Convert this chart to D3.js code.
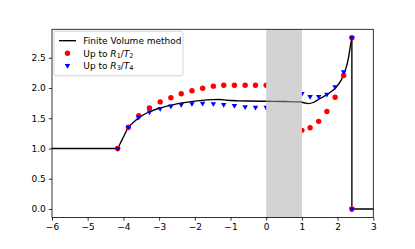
<!DOCTYPE html>
<html>
<head>
<meta charset="utf-8">
<script src="https://cdn.jsdelivr.net/npm/d3@7"></script>
<style>
  body { margin: 0; background: #fff; }
  text { font-family: "DejaVu Sans", sans-serif; font-size: 9px; fill: #000; }
</style>
</head>
<body>
<div id="chart"></div>
<script>
// Define SVG area dimensions
var svgWidth = 415;
var svgHeight = 249;

// Chart margins
var chartMargin = { top: 29.3, right: 41.7, bottom: 31.5, left: 52 };
var width = svgWidth - chartMargin.left - chartMargin.right;
var height = svgHeight - chartMargin.top - chartMargin.bottom;

// Finite Volume method: flat part, smooth part, drop at the end
var fvFlatX = [-6, -4.16];
var fvFlatY = [1.0, 1.0];
var fvX = [-4.16, -4.1, -4.0, -3.87, -3.7, -3.56, -3.4, -3.25, -3.0, -2.7, -2.4, -2.1, -1.8, -1.5, -1.3, -1.1, -0.8, -0.5, 0, 0.5, 0.95, 1.08, 1.19, 1.32, 1.46, 1.7, 1.94, 2.1, 2.22, 2.3, 2.36, 2.4];
var fvY = [1.0, 1.07, 1.19, 1.34, 1.44, 1.51, 1.57, 1.61, 1.665, 1.71, 1.75, 1.775, 1.795, 1.807, 1.81, 1.797, 1.788, 1.784, 1.78, 1.776, 1.77, 1.752, 1.742, 1.76, 1.81, 1.89, 2.0, 2.13, 2.30, 2.48, 2.70, 2.83];
var fvDropX = [2.4, 2.4, 3];
var fvDropY = [2.83, 0, 0];

// Up to R1/T2 (red dots)
var r1X = [-4.16, -3.86, -3.57, -3.27, -2.97, -2.67, -2.38, -2.08, -1.78, -1.48, -1.19, -0.89, -0.59, -0.3, 0,
           1.0, 1.23, 1.47, 1.7, 1.93, 2.17, 2.4, 2.4];
var r1Y = [1.0, 1.35, 1.54, 1.67, 1.77, 1.84, 1.905, 1.955, 1.995, 2.03, 2.045, 2.045, 2.045, 2.045, 2.045,
           1.30, 1.343, 1.448, 1.61, 1.846, 2.206, 2.83, 0];

// Up to R3/T4 (blue triangles)
var r3X = r1X;
var r3Y = [1.0, 1.35, 1.515, 1.60, 1.66, 1.70, 1.725, 1.74, 1.747, 1.74, 1.725, 1.708, 1.69, 1.68, 1.68,
           1.907, 1.857, 1.857, 1.896, 2.018, 2.267, 2.83, 0];

// Shaded band
var spanX = [0, 1];

// Tick values
var xTicks = [-6, -5, -4, -3, -2, -1, 0, 1, 2, 3];
var yTicks = [0, 0.5, 1.0, 1.5, 2.0, 2.5];

var svg = d3.select("#chart")
    .append("svg")
    .attr("width", svgWidth)
    .attr("height", svgHeight);

var chartGroup = svg.append("g")
    .attr("transform", `translate(${chartMargin.left}, ${chartMargin.top})`);

// Scales
var xLinearScale = d3.scaleLinear().domain([-6, 3]).range([0, width]);
var yLinearScale = d3.scaleLinear().domain([-0.141, 2.97]).range([height, 0]);

var lineLinear = d3.line()
    .x(d => xLinearScale(d[0]))
    .y(d => yLinearScale(d[1]));
var lineSmooth = d3.line()
    .curve(d3.curveMonotoneX)
    .x(d => xLinearScale(d[0]))
    .y(d => yLinearScale(d[1]));

function drawFV(group, color) {
    group.append("path")
        .attr("d", lineLinear(d3.zip(fvFlatX, fvFlatY)))
        .attr("fill", "none").attr("stroke", color).attr("stroke-width", 1.35);
    group.append("path")
        .attr("d", lineSmooth(d3.zip(fvX, fvY)))
        .attr("fill", "none").attr("stroke", color).attr("stroke-width", 1.35);
    group.append("path")
        .attr("d", lineLinear(d3.zip(fvDropX, fvDropY)))
        .attr("fill", "none").attr("stroke", color).attr("stroke-width", 1.35);
}

// Finite volume line
drawFV(chartGroup.append("g"), "#000");

// Red dots
chartGroup.append("g").selectAll("circle")
    .data(d3.zip(r1X, r1Y))
    .enter()
    .append("circle")
    .attr("cx", d => xLinearScale(d[0]))
    .attr("cy", d => yLinearScale(d[1]))
    .attr("r", 2.7)
    .attr("fill", "#ff0000");

// Blue triangles (pointing down)
var tri = d3.symbol().type(d3.symbolTriangle).size(13);
chartGroup.append("g").selectAll("path")
    .data(d3.zip(r3X, r3Y))
    .enter()
    .append("path")
    .attr("d", tri)
    .attr("transform", d => `translate(${xLinearScale(d[0])}, ${yLinearScale(d[1])}) rotate(180)`)
    .attr("fill", "#0000ff");

// Gray band on top of markers
chartGroup.append("rect")
    .attr("x", xLinearScale(spanX[0]))
    .attr("y", 0)
    .attr("width", xLinearScale(spanX[1]) - xLinearScale(spanX[0]))
    .attr("height", height)
    .attr("fill", "#d3d3d3");

// line visible inside the band
svg.append("defs").append("clipPath").attr("id", "bandClip")
    .append("rect")
    .attr("x", xLinearScale(spanX[0]))
    .attr("y", 0)
    .attr("width", xLinearScale(spanX[1]) - xLinearScale(spanX[0]))
    .attr("height", height);
drawFV(chartGroup.append("g").attr("clip-path", "url(#bandClip)"), "#555");

// Axes
var bottomAxis = d3.axisBottom(xLinearScale)
    .tickValues(xTicks)
    .tickSize(3.2)
    .tickPadding(3)
    .tickFormat(d => d < 0 ? "\u2212" + Math.abs(d) : d);
var xAxis = chartGroup.append("g")
    .attr("transform", `translate(0, ${height})`)
    .call(bottomAxis);

var leftAxis = d3.axisLeft(yLinearScale)
    .tickValues(yTicks)
    .tickSize(3.2)
    .tickPadding(3)
    .tickFormat(d3.format(".1f"));
var yAxis = chartGroup.append("g").call(leftAxis);

[xAxis, yAxis].forEach(function(ax) {
    ax.select(".domain").remove();
    ax.selectAll("line").attr("stroke", "#000").attr("stroke-width", 0.8);
    ax.selectAll("text")
        .attr("font-family", "DejaVu Sans")
        .attr("font-size", 9)
        .attr("fill", "#000");
});

// Spines
chartGroup.append("rect")
    .attr("x", 0).attr("y", 0)
    .attr("width", width).attr("height", height)
    .attr("fill", "none")
    .attr("stroke", "#000")
    .attr("stroke-width", 0.8);

// Legend
var legend = chartGroup.append("g").attr("transform", "translate(2, 2)");
legend.append("rect")
    .attr("x", 0).attr("y", 0)
    .attr("width", 129).attr("height", 44.5)
    .attr("rx", 2)
    .attr("fill", "#fff")
    .attr("fill-opacity", 0.8)
    .attr("stroke", "#cccccc")
    .attr("stroke-width", 0.8);

var rowY = [9.4, 22, 34.4];
legend.append("line")
    .attr("x1", 5).attr("x2", 22)
    .attr("y1", rowY[0]).attr("y2", rowY[0])
    .attr("stroke", "#000").attr("stroke-width", 1.35);
legend.append("circle")
    .attr("cx", 13.5).attr("cy", rowY[1]).attr("r", 2.7)
    .attr("fill", "#ff0000");
legend.append("path")
    .attr("d", tri)
    .attr("transform", `translate(13.5, ${rowY[2]}) rotate(180)`)
    .attr("fill", "#0000ff");

legend.append("text")
    .attr("x", 29.3).attr("y", rowY[0] + 3.3)
    .text("Finite Volume method");

function mathLabel(y, a, b, c, d) {
    var t = legend.append("text").attr("x", 29.3).attr("y", y + 3.3);
    t.append("tspan").text("Up to ");
    t.append("tspan").attr("font-style", "italic").text(a);
    t.append("tspan").attr("font-size", 6.5).attr("dy", 1.5).text(b);
    t.append("tspan").attr("dy", -1.5).text("/");
    t.append("tspan").attr("font-style", "italic").text(c);
    t.append("tspan").attr("font-size", 6.5).attr("dy", 1.5).text(d);
}
mathLabel(rowY[1], "R", "1", "T", "2");
mathLabel(rowY[2], "R", "3", "T", "4");
</script>
</body>
</html>
